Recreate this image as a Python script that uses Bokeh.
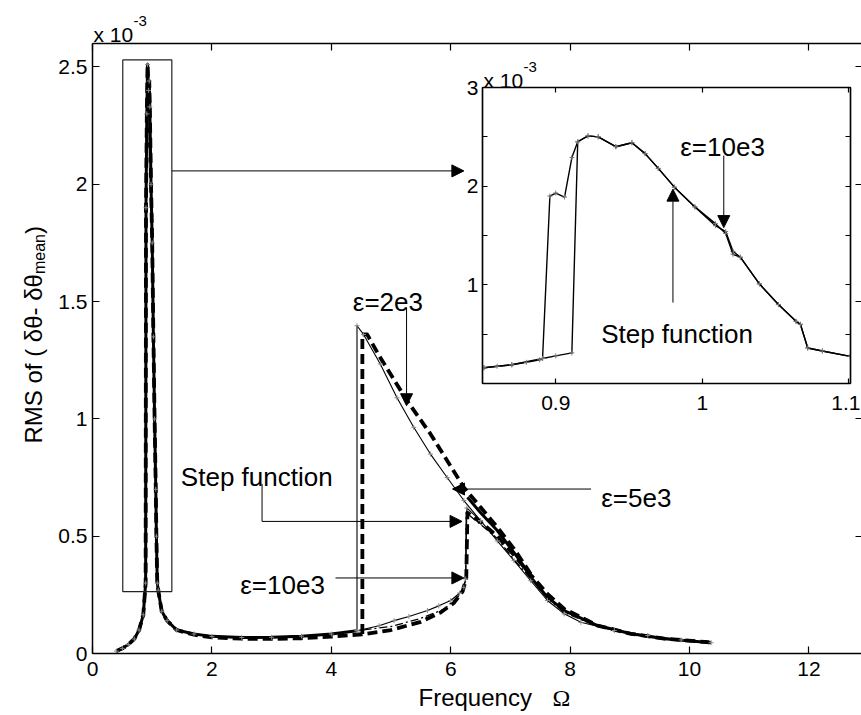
import math
from bokeh.plotting import figure
from bokeh.models import (Range1d, LinearAxis, FixedTicker, Label, Arrow, NormalHead,
                          BoxAnnotation, NumeralTickFormatter, CustomJSTickFormatter)
from bokeh.embed import file_html
from bokeh.resources import INLINE

NAN = float("nan")

# ---------------------------------------------------------------------------
# RMS of (dtheta - dtheta_mean), in units of 1e-3, versus excitation frequency
# ---------------------------------------------------------------------------
# resonance peak and flat region shared by all runs
lowf_x = [0.40, 0.50, 0.60, 0.70, 0.78, 0.85, 0.89, 0.896, 0.91, 0.922, 0.94, 0.95,
          0.96, 0.98, 1.00, 1.02, 1.04, 1.06, 1.07, 1.085, 1.10, 1.16, 1.25, 1.41,
          1.70, 2.00, 2.50, 3.00, 3.50, 4.00, 4.43]
lowf_y = [0.010, 0.022, 0.038, 0.062, 0.100, 0.165, 0.300, 1.900, 2.300, 2.510, 2.400, 2.440,
          2.330, 2.000, 1.750, 1.350, 1.000, 0.700, 0.500, 0.300, 0.270, 0.180, 0.140, 0.100,
          0.083, 0.073, 0.068, 0.069, 0.074, 0.083, 0.097]

# step function: upward sweep (lower branch, jump near 6.27, then decay)
step_up_x = [4.80, 5.05, 5.30, 5.61, 5.80, 6.00, 6.15, 6.22, 6.25, 6.27, 6.50, 6.78,
             7.06, 7.34, 7.62, 7.90, 8.18, 8.74, 9.30, 9.86, 10.36]
step_up_y = [0.118, 0.140, 0.158, 0.183, 0.203, 0.226, 0.258, 0.282, 0.318, 0.620, 0.566, 0.480,
             0.396, 0.310, 0.226, 0.169, 0.133, 0.098, 0.077, 0.058, 0.046]
# step function: downward sweep (upper branch, drop near 4.43)
step_dn_x = [6.50, 6.22, 5.94, 5.66, 5.38, 5.10, 4.82, 4.54, 4.43, 4.43]
step_dn_y = [0.566, 0.652, 0.750, 0.850, 0.964, 1.090, 1.234, 1.360, 1.397, 0.097]

# epsilon = 10e3: upward sweep
eps10_x = [5.00, 5.50, 5.90, 6.15, 6.25, 6.26, 6.50, 6.78, 7.06, 7.34, 7.62, 7.90,
           8.46, 9.02, 9.58, 10.34]
eps10_y = [0.115, 0.150, 0.190, 0.250, 0.310, 0.600, 0.550, 0.490, 0.400, 0.320, 0.235, 0.175,
           0.115, 0.085, 0.064, 0.047]

# epsilon = 5e3: upper part after the jump near 6.28
eps5_x = [6.28, 6.50, 6.78, 7.12, 7.34, 7.62, 7.90, 8.46, 9.02, 9.58, 10.36]
eps5_y = [0.666, 0.600, 0.524, 0.410, 0.325, 0.240, 0.183, 0.119, 0.084, 0.063, 0.046]

# epsilon = 2e3: upward sweep after the peak
eps2_up_x = [1.70, 2.00, 2.50, 3.00, 3.50, 4.00, 4.52, 5.00, 5.50, 5.83, 6.05, 6.20, 6.26,
             6.28, 6.50, 6.78, 7.06, 7.34, 7.62, 7.90, 8.46, 9.02, 9.58, 10.33]
eps2_up_y = [0.080, 0.069, 0.063, 0.062, 0.065, 0.072, 0.082, 0.100, 0.135, 0.175, 0.215, 0.265, 0.320,
             0.600, 0.560, 0.500, 0.420, 0.335, 0.254, 0.190, 0.119, 0.084, 0.063, 0.048]
# epsilon = 2e3: downward sweep (upper branch, drop near 4.52)
eps2_dn_x = [7.34, 7.06, 6.78, 6.50, 6.22, 5.66, 5.27, 4.80, 4.60, 4.52, 4.52]
eps2_dn_y = [0.339, 0.446, 0.538, 0.623, 0.708, 0.936, 1.077, 1.270, 1.360, 1.360, 0.082]

# zoom on the resonance peak: two runs with different jump frequencies
ins_a_x = [0.851, 0.860, 0.870, 0.880, 0.889, 0.891, 0.896, 0.900, 0.906, 0.911, 0.915, 0.922,
           0.929, 0.941, 0.952, 0.961, 0.970, 0.981, 0.995, 1.009, 1.016, 1.021, 1.026, 1.039,
           1.052, 1.064, 1.067, 1.072, 1.082, 1.101]
ins_a_y = [0.160, 0.175, 0.190, 0.215, 0.240, 0.253, 1.900, 1.930, 1.890, 2.290, 2.450, 2.510,
           2.500, 2.400, 2.440, 2.330, 2.180, 1.990, 1.790, 1.620, 1.520, 1.310, 1.280, 1.010,
           0.800, 0.630, 0.600, 0.360, 0.330, 0.275]
ins_b_x = [0.851, 0.870, 0.891, 0.900, 0.911, 0.915, 0.922, 0.929, 0.941, 0.952, 0.961, 0.970,
           0.981, 0.995, 1.009, 1.016, 1.021, 1.026, 1.039, 1.052, 1.064, 1.067, 1.072, 1.082,
           1.101]
ins_b_y = [0.160, 0.190, 0.253, 0.280, 0.310, 2.450, 2.510, 2.500, 2.400, 2.440, 2.330, 2.180,
           1.990, 1.790, 1.600, 1.540, 1.340, 1.280, 1.010, 0.800, 0.630, 0.600, 0.360, 0.330,
           0.275]

x_ticks = [0, 2, 4, 6, 8, 10, 12]
y_ticks = [0, 0.5, 1, 1.5, 2, 2.5]
ins_x_ticks = [0.9, 1.0, 1.1]
ins_y_ticks = [1, 2, 3]
ins_y_minor = [0.5, 1.5, 2.5]

# rectangle marking the zoomed region on the main axes
zoom_box = dict(left=0.507, right=1.329, bottom=0.264, top=2.530)

SANS = "Liberation Sans"
SERIF = "Liberation Serif"
TICK_FS = "21px"
NOTE_FS = "26px"

NO_LABELS = CustomJSTickFormatter(code="return ''")

# ---------------------------------------------------------------------------
# main axes
# ---------------------------------------------------------------------------
p = figure(width=861, height=715, x_range=Range1d(0, 12.88), y_range=Range1d(0, 2.6),
           output_backend="svg", toolbar_location=None,
           min_border_left=92, min_border_right=0, min_border_top=43, min_border_bottom=62)
p.outline_line_color = None
p.grid.visible = False
p.background_fill_color = "white"
p.border_fill_color = "white"


def style_axis(ax, ticks, show_labels=True, tick_len=7, standoff=6):
    ax.ticker = FixedTicker(ticks=ticks)
    ax.major_tick_in = tick_len
    ax.major_tick_out = 0
    ax.minor_tick_in = 0
    ax.minor_tick_out = 0
    ax.axis_line_color = "black"
    ax.axis_line_width = 1.5
    ax.major_tick_line_color = "black"
    ax.major_tick_line_width = 1.2
    ax.major_label_text_font = SANS
    ax.major_label_text_color = "black"
    ax.major_label_text_font_size = TICK_FS
    if show_labels:
        ax.major_label_standoff = standoff
    else:
        ax.formatter = NO_LABELS
        ax.major_label_standoff = 0


style_axis(p.xaxis[0], x_ticks, standoff=8)
p.xaxis[0].formatter = NumeralTickFormatter(format="0")
style_axis(p.yaxis[0], y_ticks, standoff=5)
p.yaxis[0].formatter = NumeralTickFormatter(format="0.[0]")

top_ax = LinearAxis()
style_axis(top_ax, x_ticks, show_labels=False)
p.add_layout(top_ax, "above")
right_ax = LinearAxis()
style_axis(right_ax, y_ticks, show_labels=False, tick_len=6)
right_ax.axis_line_color = None
p.add_layout(right_ax, "right")

# zoom rectangle
p.add_layout(BoxAnnotation(**zoom_box, fill_color=None, line_color="#222222", line_alpha=1.0,
                           line_width=1.2))


def cat(*parts):
    out = []
    for part in parts:
        out += list(part)
    return out


# epsilon = 2e3, thick dashed
p.line(cat(lowf_x[:-7], eps2_up_x), cat(lowf_y[:-7], eps2_up_y), line_color="black",
       line_width=3.8, line_dash="10 5", line_join="round")
p.line(eps2_dn_x, eps2_dn_y, line_color="black", line_width=3.8, line_dash="10 5",
       line_join="round")

# epsilon = 5e3, thick solid (flat region and upper decay are visible)
p.line(cat(lowf_x, [NAN], eps5_x), cat(lowf_y, [NAN], eps5_y), line_color="black",
       line_width=3.0, line_join="round")

# epsilon = 10e3, thin dash-dot
p.line(cat(lowf_x, eps10_x), cat(lowf_y, eps10_y), line_color="black", line_width=1.3,
       line_dash="8 3 2 3", line_join="round")

# step function, thin solid with sample markers
sx = cat(lowf_x, step_up_x)
sy = cat(lowf_y, step_up_y)
p.line(sx, sy, line_color="black", line_width=1.1, line_join="round")
p.line(step_dn_x, step_dn_y, line_color="black", line_width=1.1, line_join="round")
p.scatter(sx + step_dn_x, sy + step_dn_y, marker="cross", size=5, line_color="#888888",
          line_width=1)


def arrow(plot, x0, y0, x1, y1):
    plot.add_layout(Arrow(end=NormalHead(size=12, fill_color="black", line_color="black",
                                         line_width=1),
                          x_start=x0, y_start=y0, x_end=x1, y_end=y1,
                          line_color="black", line_width=1))


def note(plot, x, y, text, size=NOTE_FS, font=SANS, angle=0.0):
    plot.add_layout(Label(x=x, y=y, text=text, text_font=font, text_font_size=size,
                          text_color="black", text_align="left", text_baseline="alphabetic",
                          angle=angle))


# annotations on the main axes
arrow(p, zoom_box["right"], 2.057, 6.22, 2.057)
note(p, 4.36, 1.50, "\u03b5=2e3")
arrow(p, 5.26, 1.475, 5.26, 1.056)
note(p, 8.52, 0.664, "\u03b5=5e3")
arrow(p, 8.35, 0.701, 6.03, 0.701)
note(p, 1.48, 0.754, "Step function")
p.segment(x0=[2.84], y0=[0.723], x1=[2.84], y1=[0.563], line_color="black", line_width=1)
arrow(p, 2.84, 0.563, 6.19, 0.563)
note(p, 2.475, 0.290, "\u03b5=10e3")
arrow(p, 4.07, 0.322, 6.22, 0.322)

# ---------------------------------------------------------------------------
# inset: zoom on the resonance peak
# ---------------------------------------------------------------------------
inset = figure(width=430, height=368, x_range=Range1d(0.85, 1.1012), y_range=Range1d(0, 3),
               output_backend="svg", toolbar_location=None,
               min_border_left=52, min_border_right=10, min_border_top=37, min_border_bottom=35,
               css_classes=["inset-panel"])
inset.grid.visible = False
inset.background_fill_color = "white"
inset.border_fill_color = None
inset.outline_line_color = "black"
inset.outline_line_width = 1.2

style_axis(inset.xaxis[0], ins_x_ticks, tick_len=5, standoff=12)
inset.xaxis[0].formatter = NumeralTickFormatter(format="0.[0]")
style_axis(inset.yaxis[0], ins_y_ticks, tick_len=5, standoff=4)
inset.yaxis[0].ticker = FixedTicker(ticks=ins_y_ticks, minor_ticks=ins_y_minor)
inset.yaxis[0].minor_tick_in = 5
inset.yaxis[0].minor_tick_line_color = "black"
inset.yaxis[0].formatter = NumeralTickFormatter(format="0")

ins_top = LinearAxis()
style_axis(ins_top, ins_x_ticks, show_labels=False, tick_len=5)
inset.add_layout(ins_top, "above")
ins_right = LinearAxis()
style_axis(ins_right, ins_y_ticks, show_labels=False, tick_len=5)
ins_right.ticker = FixedTicker(ticks=ins_y_ticks, minor_ticks=ins_y_minor)
ins_right.minor_tick_in = 5
ins_right.minor_tick_line_color = "black"
inset.add_layout(ins_right, "right")

for xs, ys in ((ins_b_x, ins_b_y), (ins_a_x, ins_a_y)):
    inset.line(xs, ys, line_color="black", line_width=1.4, line_join="round")
    inset.scatter(xs, ys, marker="cross", size=5, line_color="#777777", line_width=1)

note(inset, 0.985, 2.396, "\u03b5=10e3")
arrow(inset, 1.0147, 2.31, 1.0147, 1.58)
note(inset, 0.931, 0.497, "Step function")
arrow(inset, 0.980, 0.82, 0.980, 1.97)

# ---------------------------------------------------------------------------
# text layer for titles and exponents that sit outside the plot frames
# (pixel coordinates measured from the top-left corner of the page)
# ---------------------------------------------------------------------------
txt = figure(width=861, height=715, x_range=Range1d(0, 861), y_range=Range1d(715, 0),
             output_backend="svg", toolbar_location=None, x_axis_location=None,
             y_axis_location=None, min_border=0, css_classes=["text-layer"])
txt.grid.visible = False
txt.outline_line_color = None
txt.background_fill_color = None
txt.border_fill_color = None

note(txt, 93, 34, "x 10", size="21px")
note(txt, 133, 20, "-3", size="15px")
note(txt, 483, 80, "x 10", size="21px")
note(txt, 523, 66, "-3", size="15px")
note(txt, 418, 697, "Frequency", size="24px")
note(txt, 552, 697, "\u03a9", size="24px", font=SERIF)
note(txt, 33, 443, "RMS of ( \u03b4\u03b8- \u03b4\u03b8", size="24px", angle=math.pi / 2)
note(txt, 39, 273.6, "mean", size="16px", angle=math.pi / 2)
note(txt, 33, 233.6, " )", size="24px", angle=math.pi / 2)

html = file_html([p, inset, txt], INLINE, title="RMS response versus frequency")
css = ("<style>body{margin:0;padding:0;} "
       ".inset-panel{position:absolute !important;left:430px !important;top:50px !important;}"
       ".text-layer{position:absolute !important;left:0px !important;top:0px !important;"
       "pointer-events:none;}"
       "</style>")
html = html.replace("</head>", css + "</head>", 1)
open("out.html", "w").write(html)
